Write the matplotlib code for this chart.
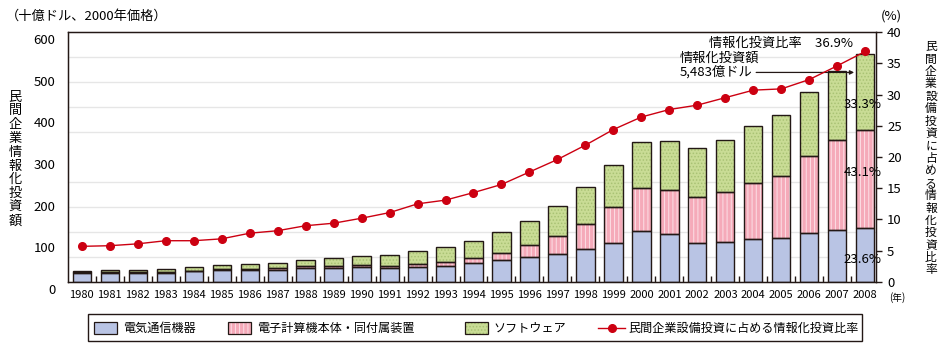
import matplotlib

matplotlib.use("Agg")
import matplotlib.pyplot as plt
import matplotlib.transforms as mtransforms
from matplotlib.patches import Rectangle
from matplotlib.lines import Line2D
import numpy as np

plt.rcParams["font.family"] = ["Noto Sans CJK JP", "DejaVu Sans"]
plt.rcParams["hatch.linewidth"] = 0.7

years = list(range(1980, 2009))
year_labels = [str(y) for y in years]

# 十億ドル (2000年価格)
telecom = [22.4, 22.4, 22.4, 22.4, 25.6, 28.0, 29.6, 29.6, 32.8, 32.8,
           35.2, 32.8, 35.2, 37.6, 44.8, 52.0, 59.2, 66.4, 78.4, 92.8,
           121.6, 114.4, 92.8, 95.0, 102.4, 104.8, 116.8, 124.0, 129.4]
computers = [1.6, 1.1, 1.1, 1.6, 1.4, 2.0, 1.9, 2.9, 4.8, 5.6,
             5.6, 5.6, 7.2, 9.6, 12.0, 18.4, 28.8, 43.2, 60.0, 86.2,
             103.4, 105.6, 110.2, 120.0, 134.6, 148.8, 184.8, 216.8, 236.3]
software = [1.6, 4.5, 4.5, 6.4, 9.0, 10.8, 10.9, 13.1, 14.4, 18.4,
            20.8, 25.6, 31.2, 36.0, 40.8, 48.8, 57.6, 72.0, 88.8, 102.0,
            110.0, 117.6, 118.0, 125.0, 136.6, 148.4, 155.4, 166.2, 182.6]
# 民間企業設備投資に占める情報化投資比率 (%)
ratio = [5.7, 5.8, 6.1, 6.6, 6.6, 6.9, 7.8, 8.2, 9.0, 9.4,
         10.2, 11.1, 12.5, 13.1, 14.3, 15.6, 17.6, 19.6, 21.9, 24.4,
         26.4, 27.6, 28.3, 29.5, 30.7, 30.9, 32.4, 34.6, 36.9]
share_labels = ["23.6%", "43.1%", "33.3%"]

series_names = ["電気通信機器", "電子計算機本体・同付属装置", "ソフトウェア"]
fills = ["#B9C4E4", "#F5AAB9", "#C9DC95"]
hatch_cols = ["#B9C4E4", "#FCE0E6", "#A9C274"]
hatches = [None, "||||", "....."]
EDGE = "#231815"
RED = "#CC0011"

fig = plt.figure(figsize=(9.48, 3.52), dpi=100)
ax = fig.add_axes([0.0714, 0.199, 0.8526, 0.710])
x = np.arange(len(years))
w = 0.65

bottom = np.zeros(len(years))
for vals, fc, hc, hatch in zip([telecom, computers, software], fills,
                               hatch_cols, hatches):
    vals = np.array(vals)
    ax.bar(x, vals, w, bottom=bottom, color=fc, edgecolor=hc, hatch=hatch,
           linewidth=0, zorder=2)
    ax.bar(x, vals, w, bottom=bottom, fill=False, edgecolor=EDGE,
           linewidth=1.0, zorder=3)
    bottom += vals

ax.set_xlim(-0.5, 28.38)
ax.set_ylim(0, 600)
ax.set_yticks(np.arange(0, 601, 100))
ax.set_yticks(np.arange(60, 600, 60), minor=True)
ax.grid(which="minor", axis="y", color="#E6E6E6", lw=1.0)
ax.set_axisbelow(True)
ax.tick_params(axis="y", which="both", length=0, pad=9, labelsize=9.5)
shift = mtransforms.ScaledTranslation(0, -5 / 72, fig.dpi_scale_trans)
for lab in ax.get_yticklabels():
    lab.set_transform(lab.get_transform() + shift)

ax.set_xticks(x)
ax.set_xticklabels(year_labels, fontsize=8)
ax.set_xticks(x[:-1] + 0.5, minor=True)
ax.tick_params(axis="x", which="major", length=0, pad=6)
ax.tick_params(axis="x", which="minor", direction="in", length=4,
               width=1, color=EDGE)
for s in ax.spines.values():
    s.set_color(EDGE)
    s.set_linewidth(1.0)

ax2 = ax.twinx()
ax2.set_ylim(0, 40)
ax2.set_yticks(np.arange(0, 41, 5))
ax2.tick_params(axis="y", direction="out", length=4, width=1, color=EDGE,
                pad=4, labelsize=9.5)
ax2.plot(x, ratio, color=RED, lw=1.0, marker="o", ms=5.5, zorder=5)
for s in ax2.spines.values():
    s.set_color(EDGE)

# annotations
for lab, yv in zip(share_labels, [53, 262, 425]):
    ax.text(27.9, yv, lab, ha="center", va="center", fontsize=9.5, zorder=6)
ax.text(25.0, 574, "情報化投資比率　36.9%", ha="center", va="center",
        fontsize=9.5)
ax.text(21.35, 520, "情報化投資額\n5,483億ドル", ha="left", va="center",
        fontsize=9.5, linespacing=1.0)
ax.annotate("", xy=(27.6, 503), xytext=(24.1, 503),
            arrowprops=dict(arrowstyle="-|>", lw=0.9, color=EDGE,
                            mutation_scale=6, shrinkA=0, shrinkB=0))

fig.text(0.006, 0.955, "（十億ドル、2000年価格）", fontsize=9.5,
         va="center", ha="left")
fig.text(0.929, 0.955, "(%)", fontsize=9.5, va="center", ha="left")
fig.text(0.938, 0.155, "(年)", fontsize=7, va="center", ha="left")
fig.text(0.016, 0.548, "\n".join("民間企業情報化投資額"), fontsize=9.5,
         ha="center", va="center", linespacing=1.08)
fig.text(0.982, 0.55, "\n".join("民間企業設備投資に占める情報化投資比率"),
         fontsize=8.5, ha="center", va="center", linespacing=0.94)

# legend box
W, H = 948, 352


def fx(px):
    return px / W


def fy(py):
    return 1 - py / H


fig.add_artist(Rectangle((fx(88), fy(341)), fx(862) - fx(88),
                         fy(314) - fy(341), transform=fig.transFigure,
                         fill=False, ec=EDGE, lw=1.0))
for px0, name, fc, hc, hatch in zip([94, 228, 465], series_names, fills,
                                    hatch_cols, hatches):
    fig.add_artist(Rectangle((fx(px0), fy(334)), fx(23), 12.5 / H,
                             transform=fig.transFigure, fc=fc, ec=hc,
                             hatch=hatch, lw=0))
    fig.add_artist(Rectangle((fx(px0), fy(334)), fx(23), 12.5 / H,
                             transform=fig.transFigure, fill=False, ec=EDGE,
                             lw=0.9))
    fig.text(fx(px0 + 29), fy(328), name, fontsize=8.7, va="center",
             ha="left")
fig.add_artist(Line2D([fx(598), fx(625)], [fy(328), fy(328)], color=RED,
                      lw=1.0, transform=fig.transFigure))
fig.add_artist(Line2D([fx(611.5)], [fy(328)], color=RED, marker="o",
                      ms=5.5, transform=fig.transFigure))
fig.text(fx(628), fy(328), "民間企業設備投資に占める情報化投資比率",
         fontsize=8.7, va="center", ha="left")

fig.savefig("out.png", dpi=100)
